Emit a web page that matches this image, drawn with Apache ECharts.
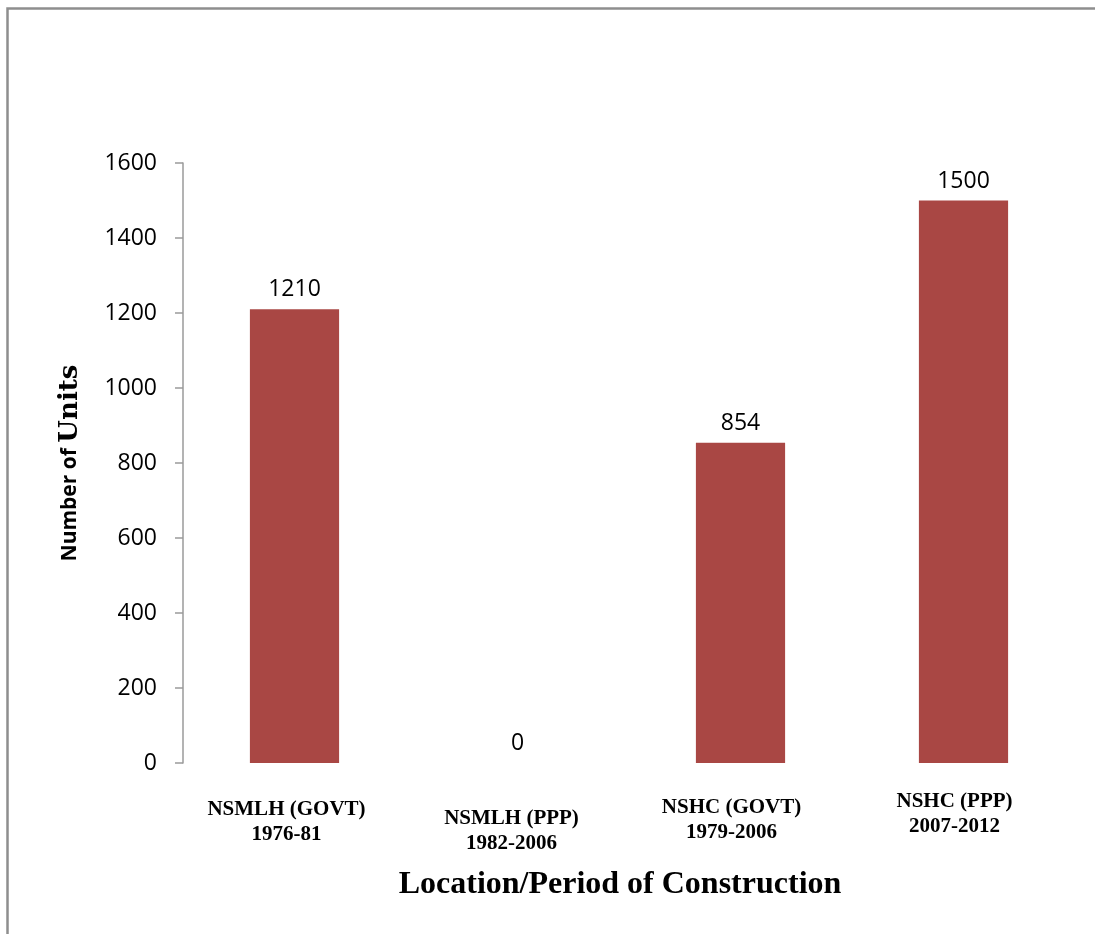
<!DOCTYPE html>
<html>
<head>
<meta charset="utf-8">
<script src="https://cdn.jsdelivr.net/npm/echarts@6/dist/echarts.min.js"></script>
<style>
  html, body { margin: 0; padding: 0; background: #ffffff; }
  #chart { width: 1095px; height: 934px; }
</style>
</head>
<body>
<div id="chart"></div>
<script>
// Housing units built, by scheme and construction period
const categories = [
  'NSMLH (GOVT)\n1976-81',
  'NSMLH (PPP)\n1982-2006',
  'NSHC (GOVT)\n1979-2006',
  'NSHC (PPP)\n2007-2012'
];
const units = [1210, 0, 854, 1500];
const yTicks = { min: 0, max: 1600, interval: 200 };

// Per-label nudges for the two-line category labels: [down, left] in px
const labelNudge = [[8, 8], [17, 6], [6, 9], [0, 9]];
const spacerBase = 4;

const catFont = {
  fontFamily: '"Liberation Serif", "Times New Roman", serif',
  fontWeight: 'bold',
  fontSize: 21,
  lineHeight: 25,
  color: '#000'
};
const catRich = {};
labelNudge.forEach(([down, left], i) => {
  catRich['s' + i] = { fontSize: 1, lineHeight: spacerBase + down, height: spacerBase + down };
  catRich['c' + i] = Object.assign({}, catFont, { padding: [0, left * 2, 0, 0] });
});

const numFont = '"Open Sans", "Noto Sans", sans-serif';

const chart = echarts.init(document.getElementById('chart'), null, { renderer: 'canvas' });
chart.setOption({
  backgroundColor: '#ffffff',
  animation: false,
  graphic: [{
    type: 'rect',
    shape: { x: 7.5, y: 8.5, width: 2000, height: 2000 },
    style: { fill: 'none', stroke: '#8e8e8e', lineWidth: 2.5 },
    silent: true
  }],
  grid: { left: 183, right: 20, top: 163, bottom: 171, containLabel: false },
  xAxis: {
    type: 'category',
    data: categories,
    axisLine: { show: false },
    axisTick: { show: false },
    axisLabel: {
      interval: 0,
      margin: 26 - spacerBase,
      formatter: (value, idx) => {
        const lines = value.split('\n').map(l => '{c' + idx + '|' + l + '}');
        return ['{s' + idx + '| }'].concat(lines).join('\n');
      },
      rich: catRich
    },
    name: 'Location/Period of Construction',
    nameLocation: 'middle',
    nameGap: 106,
    nameTextStyle: {
      fontFamily: '"Liberation Serif", "Times New Roman", serif',
      fontWeight: 'bold',
      fontSize: 32,
      color: '#000',
      padding: [0, 18, 0, 0]
    }
  },
  yAxis: {
    type: 'value',
    min: yTicks.min,
    max: yTicks.max,
    interval: yTicks.interval,
    splitLine: { show: false },
    axisLine: { show: true, lineStyle: { color: '#9a9a9a', width: 1.5 } },
    axisTick: { show: true, length: 8, lineStyle: { color: '#9a9a9a', width: 1.5 } },
    axisLabel: {
      margin: 26,
      fontFamily: numFont,
      fontSize: 23,
      color: '#000',
      formatter: v => String(v)
    },
    name: '{a|Number of }{b|Units}',
    nameLocation: 'middle',
    nameRotate: 90,
    nameGap: 100,
    nameTextStyle: {
      rich: {
        a: { fontFamily: numFont, fontWeight: 'bold', fontSize: 21, color: '#000' },
        b: { fontFamily: '"DejaVu Serif", serif', fontWeight: 'bold', fontSize: 26, color: '#000' }
      }
    }
  },
  series: [{
    type: 'bar',
    data: units,
    barWidth: '40%',
    itemStyle: { color: '#a94744' },
    label: {
      show: true,
      position: 'top',
      distance: 8,
      fontFamily: numFont,
      fontSize: 23,
      color: '#000'
    }
  }]
});
</script>
</body>
</html>
